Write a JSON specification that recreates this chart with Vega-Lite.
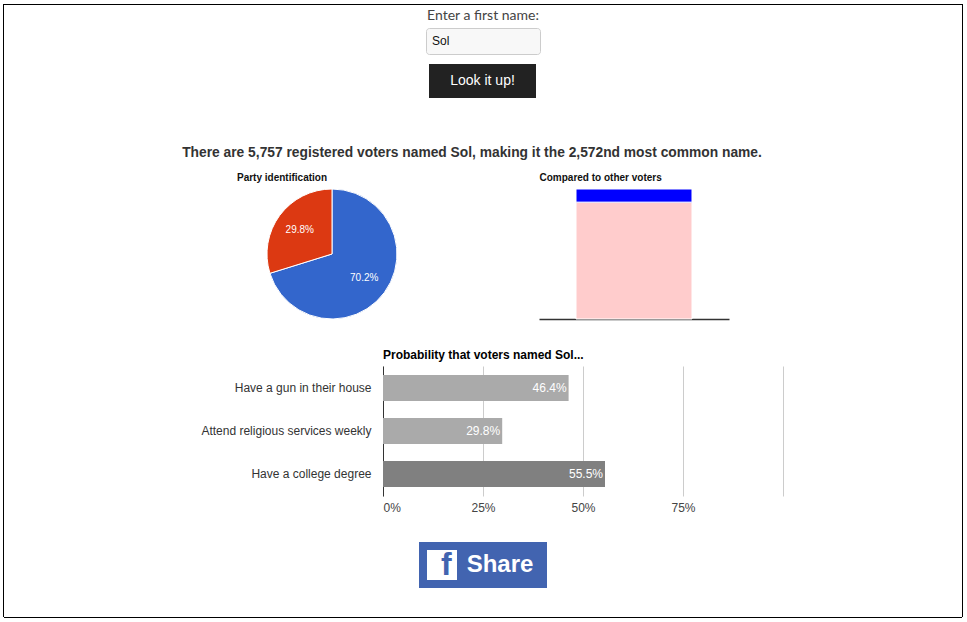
{
  "$schema": "https://vega.github.io/schema/vega-lite/v6.json",
  "padding": {"left": 3, "top": 4, "right": 0, "bottom": 0},
  "background": "white",
  "spacing": 0,
  "resolve": {"scale": {"color": "independent"}, "legend": {"color": "independent"}},
  "config": {
    "view": {"stroke": null},
    "concat": {"spacing": 0},
    "font": "Liberation Sans"
  },
  "data": {"values": [{}]},
  "hconcat": [
    {"width": 1, "height": 613, "view": {"fill": "black", "stroke": null}, "mark": {"type": "point", "size": 0, "opacity": 0}, "encoding": {}},
    {
      "spacing": 0,
      "resolve": {"scale": {"color": "independent"}, "legend": {"color": "independent"}},
      "vconcat": [
        {"width": 958, "height": 1, "view": {"fill": "black", "stroke": null}, "mark": {"type": "point", "size": 0, "opacity": 0}, "encoding": {}},
        {"width": 958, "height": 22, "mark": {"type": "text", "font": "Lato", "fontSize": 14, "color": "#444"}, "encoding": {"text": {"value": "Enter a first name:"}}},
        {
          "bounds": "flush", "spacing": 0,
          "hconcat": [
            {"width": 422, "height": 26, "mark": {"type": "point", "size": 0, "opacity": 0}, "encoding": {}},
            {"width": 114, "height": 26, "view": {"fill": "#f8f8f8", "stroke": "#cccccc", "cornerRadius": 3}, "mark": {"type": "text", "align": "left", "dx": -51, "fontSize": 12, "color": "#111"}, "encoding": {"text": {"value": "Sol"}}},
            {"width": 422, "height": 26, "mark": {"type": "point", "size": 0, "opacity": 0}, "encoding": {}}
          ]
        },
        {"width": 958, "height": 9, "mark": {"type": "point", "size": 0, "opacity": 0}, "encoding": {}},
        {
          "bounds": "flush", "spacing": 0,
          "hconcat": [
            {"width": 425, "height": 34, "mark": {"type": "point", "size": 0, "opacity": 0}, "encoding": {}},
            {"width": 107, "height": 34, "view": {"fill": "#222222", "stroke": null}, "mark": {"type": "text", "fontSize": 14, "color": "white"}, "encoding": {"text": {"value": "Look it up!"}}},
            {"width": 426, "height": 34, "mark": {"type": "point", "size": 0, "opacity": 0}, "encoding": {}}
          ]
        },
        {"width": 958, "height": 42, "mark": {"type": "point", "size": 0, "opacity": 0}, "encoding": {}},
        {"width": 958, "height": 26, "mark": {"type": "text", "fontSize": 13.8, "fontWeight": "bold", "color": "#333", "dx": -11}, "encoding": {"text": {"value": "There are 5,757 registered voters named Sol, making it the 2,572nd most common name."}}},
        {
          "bounds": "flush", "spacing": 0,
          "hconcat": [
            {"width": 233, "height": 21, "mark": {"type": "point", "size": 0, "opacity": 0}, "encoding": {}},
            {"width": 302, "height": 21, "mark": {"type": "text", "align": "left", "dx": -151, "dy": 1, "fontSize": 10, "fontWeight": "bold", "color": "#111"}, "encoding": {"text": {"value": "Party identification"}}},
            {"width": 423, "height": 21, "mark": {"type": "text", "align": "left", "dx": -211, "dy": 1, "fontSize": 10, "fontWeight": "bold", "color": "#111"}, "encoding": {"text": {"value": "Compared to other voters"}}}
          ]
        },
        {
          "bounds": "flush", "spacing": 0,
          "resolve": {"scale": {"color": "independent"}, "legend": {"color": "independent"}},
          "hconcat": [
            {"width": 263, "height": 130, "mark": {"type": "point", "size": 0, "opacity": 0}, "encoding": {}},
            {
              "width": 130, "height": 130,
              "data": {"values": [{"party": "Democrat", "share": 0.702}, {"party": "Republican", "share": 0.298}]},
              "layer": [
                {"mark": {"type": "arc", "stroke": "white", "strokeWidth": 1},
                 "encoding": {
                   "theta": {"field": "share", "type": "quantitative", "stack": true},
                   "color": {"field": "party", "type": "nominal", "scale": {"domain": ["Democrat", "Republican"], "range": ["#3366cc", "#dc3912"]}, "legend": null},
                   "order": {"field": "party"}
                 }},
                {"mark": {"type": "text", "radius": 40, "color": "white", "fontSize": 10},
                 "encoding": {
                   "theta": {"field": "share", "type": "quantitative", "stack": true},
                   "text": {"field": "share", "type": "quantitative", "format": ".1%"},
                   "order": {"field": "party"}
                 }}
              ]
            },
            {"width": 142, "height": 130, "mark": {"type": "point", "size": 0, "opacity": 0}, "encoding": {}},
            {
              "width": 190, "height": 130,
              "data": {"values": [{"group": "Sol", "segment": "Other voters", "value": 89.9}, {"group": "Sol", "segment": "Voters named Sol", "value": 10.1}]},
              "mark": {"type": "bar", "stroke": "white", "strokeWidth": 1},
              "encoding": {
                "x": {"field": "group", "type": "nominal", "scale": {"paddingInner": 0, "paddingOuter": 0.319}, "axis": {"title": null, "labels": false, "ticks": false, "domain": true, "domainColor": "#333", "domainWidth": 1.5}},
                "y": {"field": "value", "type": "quantitative", "stack": true, "scale": {"domain": [0, 100]}, "axis": null},
                "color": {"field": "segment", "type": "nominal", "scale": {"domain": ["Other voters", "Voters named Sol"], "range": ["#ffcccc", "#0000ff"]}, "legend": null},
                "order": {"field": "segment"}
              }
            },
            {"width": 233, "height": 130, "mark": {"type": "point", "size": 0, "opacity": 0}, "encoding": {}}
          ]
        },
        {
          "bounds": "flush", "spacing": 0,
          "hconcat": [
            {"width": 379, "height": 45, "mark": {"type": "point", "size": 0, "opacity": 0}, "encoding": {}},
            {"width": 400, "height": 45, "mark": {"type": "text", "align": "left", "dx": -200, "dy": 11.5, "fontSize": 12, "fontWeight": "bold", "color": "#000"}, "encoding": {"text": {"value": "Probability that voters named Sol..."}}},
            {"width": 179, "height": 45, "mark": {"type": "point", "size": 0, "opacity": 0}, "encoding": {}}
          ]
        },
        {
          "bounds": "flush", "spacing": 0,
          "resolve": {"scale": {"color": "independent"}, "legend": {"color": "independent"}},
          "hconcat": [
            {"width": 379, "height": 130, "mark": {"type": "point", "size": 0, "opacity": 0}, "encoding": {}},
            {
              "width": 400, "height": 130,
              "data": {"values": [
                {"question": "Have a gun in their house", "p": 0.464},
                {"question": "Attend religious services weekly", "p": 0.298},
                {"question": "Have a college degree", "p": 0.555}
              ]},
              "encoding": {
                "y": {"field": "question", "type": "nominal", "sort": null,
                      "scale": {"paddingInner": 0.395, "paddingOuter": 0.209},
                      "axis": {"title": null, "ticks": false, "domain": true, "domainColor": "#333", "labelPadding": 12, "labelFontSize": 12, "labelColor": "#333", "labelLimit": 260, "grid": false}}
              },
              "layer": [
                {"mark": "bar",
                 "encoding": {
                   "x": {"field": "p", "type": "quantitative", "scale": {"domain": [0, 1]},
                         "axis": {"title": null, "format": ".0%", "values": [0, 0.25, 0.5, 0.75, 1], "labelExpr": "datum.value == 1 ? '' : datum.label", "domain": false, "ticks": false, "gridColor": "#cccccc", "labelPadding": 6, "labelFontSize": 12, "labelColor": "#444"}},
                   "color": {"field": "question", "type": "nominal", "scale": {"domain": ["Have a gun in their house", "Attend religious services weekly", "Have a college degree"], "range": ["#aaaaaa", "#aaaaaa", "#808080"]}, "legend": null}
                 }},
                {"mark": {"type": "text", "align": "right", "dx": -2, "color": "white", "fontSize": 12},
                 "encoding": {
                   "x": {"field": "p", "type": "quantitative"},
                   "text": {"field": "p", "type": "quantitative", "format": ".1%"}
                 }}
              ]
            },
            {"width": 179, "height": 130, "mark": {"type": "point", "size": 0, "opacity": 0}, "encoding": {}}
          ]
        },
        {"width": 958, "height": 29, "mark": {"type": "point", "size": 0, "opacity": 0}, "encoding": {}},
        {
          "bounds": "flush", "spacing": 0,
          "hconcat": [
            {"width": 415, "height": 46, "mark": {"type": "point", "size": 0, "opacity": 0}, "encoding": {}},
            {"width": 8, "height": 46, "view": {"fill": "#4264b0", "stroke": null}, "mark": {"type": "point", "size": 0, "opacity": 0}, "encoding": {}},
            {"width": 30, "height": 46, "view": {"fill": "#4264b0", "stroke": null},
             "layer": [
               {"mark": {"type": "point", "shape": "square", "size": 900, "filled": true, "color": "white", "opacity": 1}, "encoding": {}},
               {"mark": {"type": "text", "fontSize": 32, "fontWeight": "bold", "color": "#4264b0", "align": "left", "baseline": "bottom", "dx": -1, "dy": 17}, "encoding": {"text": {"value": "f"}}}
             ]},
            {"width": 90, "height": 46, "view": {"fill": "#4264b0", "stroke": null}, "mark": {"type": "text", "fontSize": 24, "fontWeight": "bold", "color": "white", "dx": -2}, "encoding": {"text": {"value": "Share"}}},
            {"width": 415, "height": 46, "mark": {"type": "point", "size": 0, "opacity": 0}, "encoding": {}}
          ]
        },
        {"width": 958, "height": 29, "mark": {"type": "point", "size": 0, "opacity": 0}, "encoding": {}},
        {"width": 958, "height": 1, "view": {"fill": "black", "stroke": null}, "mark": {"type": "point", "size": 0, "opacity": 0}, "encoding": {}}
      ]
    },
    {"width": 1, "height": 613, "view": {"fill": "black", "stroke": null}, "mark": {"type": "point", "size": 0, "opacity": 0}, "encoding": {}}
  ]
}
